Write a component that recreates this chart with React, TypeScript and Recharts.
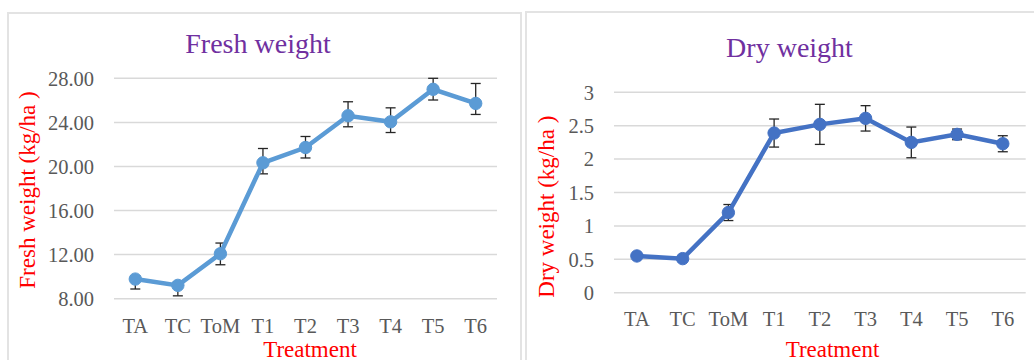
import React from 'react';
import { LineChart, Line, XAxis, YAxis, CartesianGrid, ErrorBar } from 'recharts';

// Treatments on the x axis
const treatments = ['TA', 'TC', 'ToM', 'T1', 'T2', 'T3', 'T4', 'T5', 'T6'];

// Fresh weight (kg/ha): means and error lengths below / above each mean
const freshMean = [9.78, 9.21, 12.08, 20.33, 21.72, 24.6, 24.05, 27.0, 25.72];
const freshErrMinus = [0.9, 0.95, 1.0, 1.0, 0.95, 1.0, 0.97, 0.97, 1.0];
const freshErrPlus = [0.3, 0.3, 0.97, 1.3, 1.0, 1.27, 1.27, 1.0, 1.81];
const freshTicks = [8, 12, 16, 20, 24, 28];

// Dry weight (kg/ha): means and symmetric errors
const dryMean = [0.55, 0.51, 1.2, 2.39, 2.52, 2.61, 2.25, 2.37, 2.23];
const dryErr = [0.03, 0.03, 0.12, 0.21, 0.3, 0.19, 0.23, 0.08, 0.12];
const dryTicks = [0, 0.5, 1, 1.5, 2, 2.5, 3];

type Row = { name: string; value: number; err: [number, number] };

const freshRows: Row[] = treatments.map((name, i) => ({
  name,
  value: freshMean[i],
  err: [freshErrMinus[i], freshErrPlus[i]],
}));

const dryRows: Row[] = treatments.map((name, i) => ({
  name,
  value: dryMean[i],
  err: [dryErr[i], dryErr[i]],
}));

const FONT = '"Liberation Serif", "Times New Roman", serif';
const TICK_COLOR = '#595959';
const GRID_COLOR = '#d9d9d9';
const TITLE_COLOR = '#7030A0';
const AXIS_TITLE_COLOR = '#FF0000';

type PanelProps = {
  rows: Row[];
  left: number;
  width: number;
  top: number;
  bottom: number;
  yAxisWidth: number;
  right: number;
  pad: number;
  xTickMargin: number;
  ticks: number[];
  domain: [number, number];
  format: (v: number) => string;
  color: string;
};

// One panel = two identical plot frames stacked: the lower one carries grid,
// axes and error bars, the upper one the line and markers, so the markers
// always cover the error bars.
function Panel(p: PanelProps) {
  const axes = (showTicks: boolean) => [
    <XAxis
      key="x"
      dataKey="name"
      height={p.bottom}
      axisLine={false}
      tickLine={false}
      tickSize={0}
      tickMargin={p.xTickMargin}
      padding={{ left: p.pad, right: p.pad }}
      interval={0}
      tick={showTicks ? { fill: TICK_COLOR, fontSize: 20.5, fontFamily: FONT } : false}
    />,
    <YAxis
      key="y"
      type="number"
      width={p.yAxisWidth}
      domain={p.domain}
      ticks={p.ticks}
      allowDataOverflow
      axisLine={false}
      tickLine={false}
      tickSize={0}
      tickMargin={20}
      interval={0}
      tickFormatter={p.format}
      tick={showTicks ? { fill: TICK_COLOR, fontSize: 20.5, fontFamily: FONT } : false}
    />,
  ];
  const margin = { top: p.top, right: p.right, bottom: 0, left: 0 };
  return (
    <div style={{ position: 'absolute', left: p.left, top: 0, width: p.width, height: 360 }}>
      <div style={{ position: 'absolute', left: 0, top: 0 }}>
        <LineChart width={p.width} height={360} data={p.rows} margin={margin}>
          <CartesianGrid vertical={false} stroke={GRID_COLOR} strokeWidth={1.5} />
          {axes(true)}
          <Line
            dataKey="value"
            stroke="none"
            dot={false}
            activeDot={false}
            legendType="none"
            isAnimationActive={false}
          >
            <ErrorBar
              dataKey={(d: Row) => d.err}
              width={5}
              stroke="#262626"
              strokeWidth={1.3}
              direction="y"
            />
          </Line>
        </LineChart>
      </div>
      <div style={{ position: 'absolute', left: 0, top: 0 }}>
        <LineChart width={p.width} height={360} data={p.rows} margin={margin}>
          {axes(false)}
          <Line
            dataKey="value"
            stroke={p.color}
            strokeWidth={4.5}
            dot={{ r: 6.2, fill: p.color, stroke: p.color, strokeWidth: 1 }}
            activeDot={false}
            isAnimationActive={false}
          />
        </LineChart>
      </div>
    </div>
  );
}

function Frame({ left, top, width }: { left: number; top: number; width: number }) {
  return (
    <div
      style={{
        position: 'absolute',
        left,
        top,
        width,
        height: 420,
        boxSizing: 'border-box',
        border: '2px solid #e3e3e3',
        background: '#fff',
      }}
    />
  );
}

export default function App() {
  return (
    <div
      style={{
        position: 'absolute',
        left: 0,
        top: 0,
        width: 1034,
        height: 360,
        overflow: 'hidden',
        background: '#fff',
      }}
    >
      <Frame left={7} top={12} width={515} />
      <Frame left={525} top={11} width={540} />

      <Panel
        rows={freshRows}
        left={0}
        width={521}
        top={78.3}
        bottom={61.3}
        yAxisWidth={114}
        right={24}
        pad={21.3}
        xTickMargin={20}
        ticks={freshTicks}
        domain={[8, 28]}
        format={(v) => v.toFixed(2)}
        color="#5B9BD5"
      />
      <Panel
        rows={dryRows}
        left={526}
        width={508}
        top={92.3}
        bottom={67.3}
        yAxisWidth={88}
        right={8.3}
        pad={22.9}
        xTickMargin={18.4}
        ticks={dryTicks}
        domain={[0, 3]}
        format={(v) => String(v)}
        color="#4472C4"
      />

      <svg
        width={1034}
        height={360}
        style={{ position: 'absolute', left: 0, top: 0, pointerEvents: 'none' }}
        fontFamily={FONT}
      >
        <text x={258} y={52.7} fontSize={28} fill={TITLE_COLOR} textAnchor="middle">
          Fresh weight
        </text>
        <text x={789.5} y={56.7} fontSize={28} fill={TITLE_COLOR} textAnchor="middle">
          Dry weight
        </text>
        <text
          x={34.5}
          y={190}
          fontSize={23}
          fill={AXIS_TITLE_COLOR}
          textAnchor="middle"
          transform="rotate(-90 34.5 190)"
        >
          Fresh weight (kg/ha )
        </text>
        <text
          x={554}
          y={206.7}
          fontSize={23}
          fill={AXIS_TITLE_COLOR}
          textAnchor="middle"
          transform="rotate(-90 554 206.7)"
        >
          Dry weight (kg/ha )
        </text>
        <text x={310} y={357} fontSize={23} fill={AXIS_TITLE_COLOR} textAnchor="middle">
          Treatment
        </text>
        <text x={832.5} y={357} fontSize={23} fill={AXIS_TITLE_COLOR} textAnchor="middle">
          Treatment
        </text>
      </svg>
    </div>
  );
}
